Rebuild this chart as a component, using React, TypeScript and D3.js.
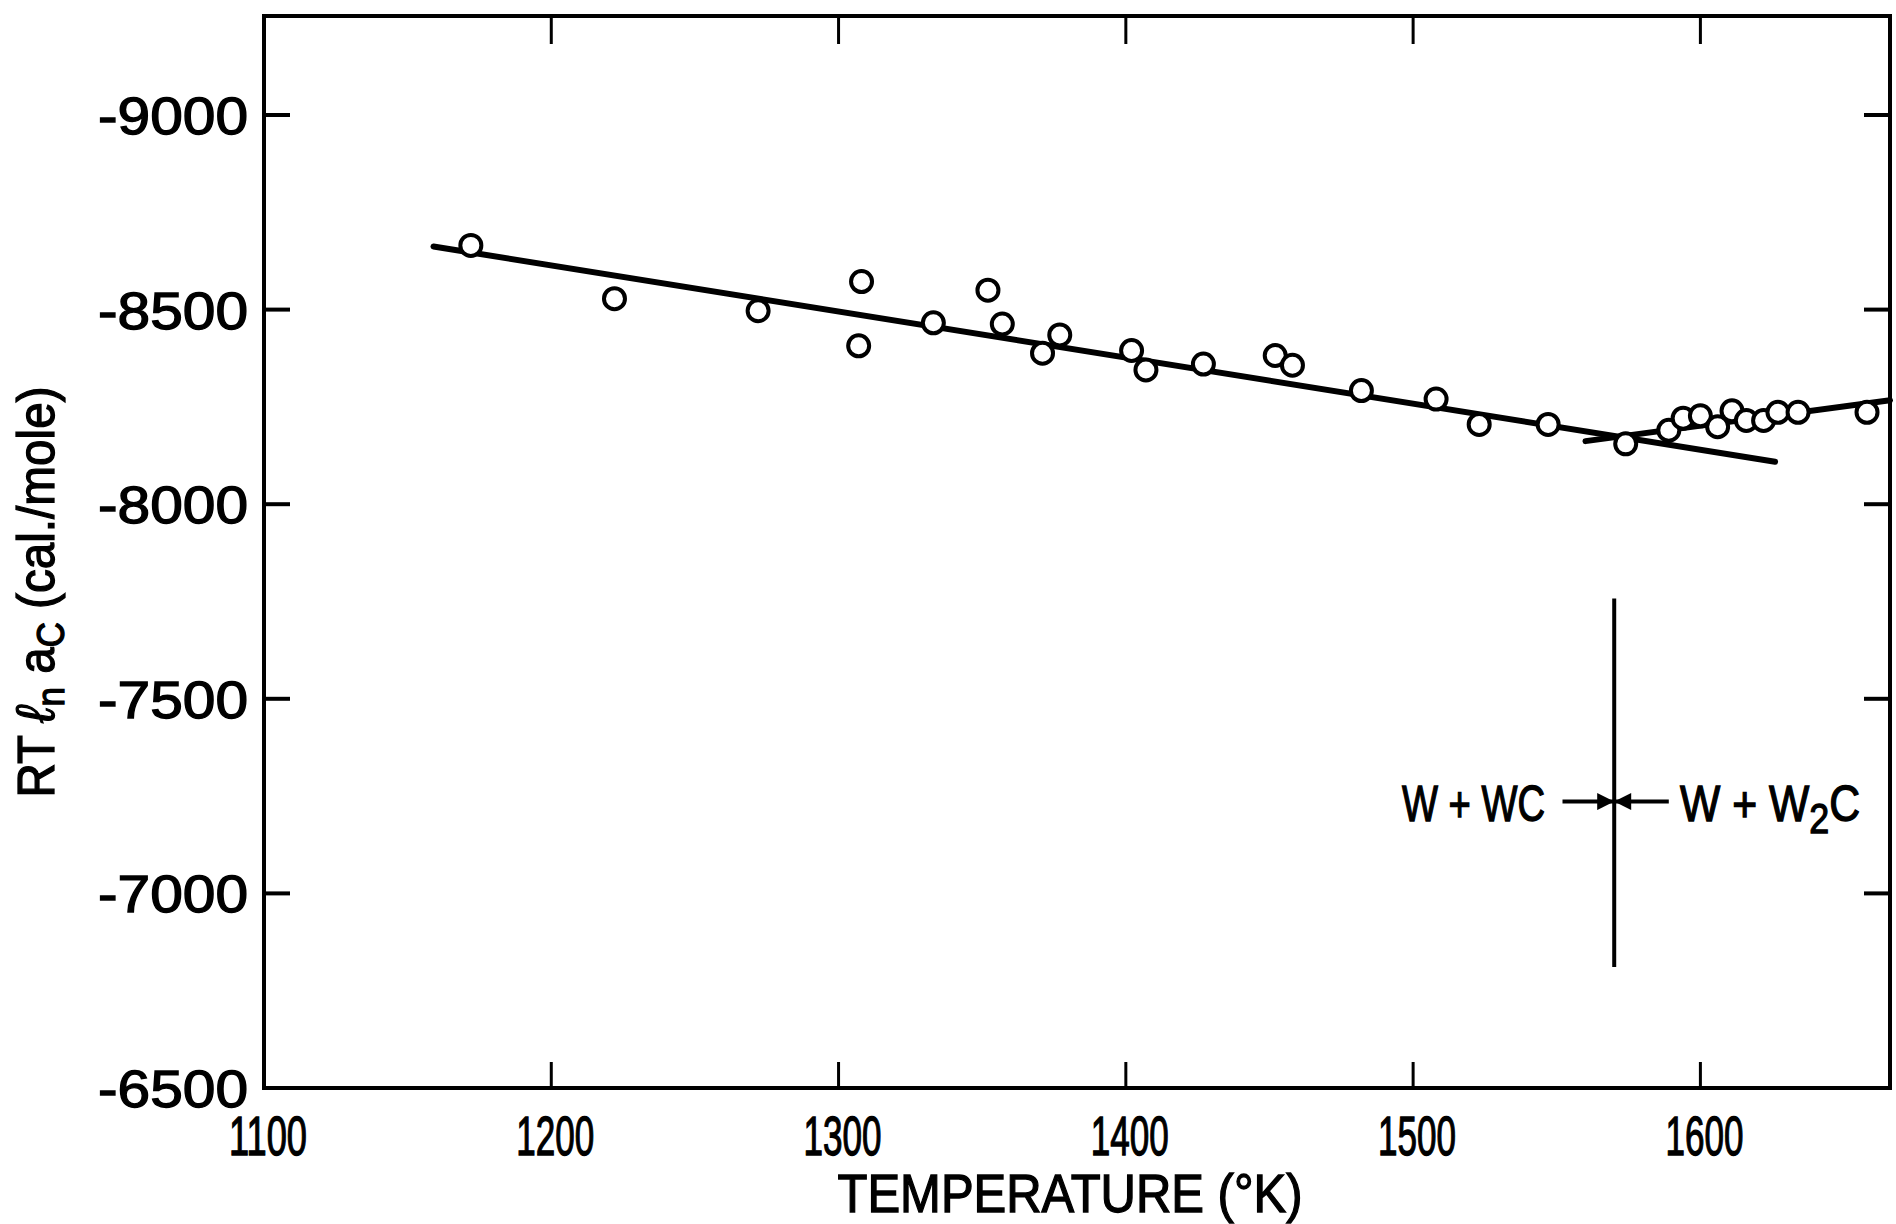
import React, { useRef, useEffect } from "react";
import * as d3 from "d3";

// axis ticks
const tempTicks = [1100, 1200, 1300, 1400, 1500, 1600];
const energyTicks = [-9000, -8500, -8000, -7500, -7000, -6500];

// measured points, RT ln aC (cal./mole) vs temperature (K)
const measuredTemp = [
  1172, 1222, 1272, 1308, 1307, 1333, 1352, 1357, 1371, 1377, 1402, 1407,
  1427, 1452, 1458, 1482, 1508, 1523, 1547, 1574, 1589, 1594, 1600, 1606,
  1611, 1616, 1622, 1627, 1634, 1658,
];
const measuredEnergy = [
  -8665, -8528, -8497, -8572, -8407, -8466, -8550, -8463, -8388, -8435, -8395,
  -8345, -8360, -8382, -8357, -8292, -8270, -8205, -8205, -8155, -8190, -8221,
  -8227, -8199, -8240, -8215, -8215, -8236, -8236, -8236,
];

// fitted lines (W + WC and W + W2C)
const wcFitTemp = [1159, 1626];
const wcFitEnergy = [-8662, -8109];
const w2cFitTemp = [1560, 1666];
const w2cFitEnergy = [-8162, -8267];

// phase boundary marker
const boundaryTemp = 1570;
const boundaryEnergy = [-7758, -6811];
const arrowEnergy = -7236;
const arrowTailTemp = [1552, 1589];

const width = 1896;
const height = 1224;
const left = 264;
const right = 1890;
const top = 16;
const bottom = 1088;
const tickLen = 26;
const font = "'Liberation Sans', Arial, sans-serif";

const App = () => {
  const svgRef = useRef(null);

  useEffect(() => {
    const svg = d3.select(svgRef.current);
    svg.selectAll("*").remove(); //clear

    const x = d3.scaleLinear().domain([1100, 1666]).range([left, right]);
    const y = d3.scaleLinear().domain([-6500, -9000]).range([bottom, 115]);

    const defs = svg.append("defs");
    defs
      .append("marker")
      .attr("id", "head")
      .attr("viewBox", "0 0 10 10")
      .attr("refX", 10)
      .attr("refY", 5)
      .attr("markerUnits", "userSpaceOnUse")
      .attr("markerWidth", 18)
      .attr("markerHeight", 17)
      .attr("orient", "auto")
      .append("path")
      .attr("d", "M0,0 L10,5 L0,10 Z")
      .attr("fill", "#000");

    // heavier text, like the printed original
    const ink = (sel) =>
      sel
        .attr("font-family", font)
        .attr("fill", "#000")
        .attr("stroke", "#000")
        .attr("stroke-width", 1.3);

    // frame
    svg
      .append("rect")
      .attr("x", left)
      .attr("y", top)
      .attr("width", right - left)
      .attr("height", bottom - top)
      .attr("fill", "none")
      .attr("stroke", "#000")
      .attr("stroke-width", 4);

    // ticks, all pointing inward
    const inner = tempTicks.slice(1);
    svg
      .append("g")
      .selectAll("line")
      .data(inner)
      .enter()
      .append("line")
      .attr("x1", (d) => x(d))
      .attr("x2", (d) => x(d))
      .attr("y1", bottom)
      .attr("y2", bottom - tickLen)
      .attr("stroke", "#000")
      .attr("stroke-width", 3);
    svg
      .append("g")
      .selectAll("line")
      .data(inner)
      .enter()
      .append("line")
      .attr("x1", (d) => x(d))
      .attr("x2", (d) => x(d))
      .attr("y1", top)
      .attr("y2", top + tickLen + 2)
      .attr("stroke", "#000")
      .attr("stroke-width", 3);

    const yInner = energyTicks.slice(0, -1);
    svg
      .append("g")
      .selectAll("line")
      .data(yInner)
      .enter()
      .append("line")
      .attr("x1", left)
      .attr("x2", left + tickLen)
      .attr("y1", (d) => y(d))
      .attr("y2", (d) => y(d))
      .attr("stroke", "#000")
      .attr("stroke-width", 4);
    svg
      .append("g")
      .selectAll("line")
      .data(yInner)
      .enter()
      .append("line")
      .attr("x1", right)
      .attr("x2", right - tickLen)
      .attr("y1", (d) => y(d))
      .attr("y2", (d) => y(d))
      .attr("stroke", "#000")
      .attr("stroke-width", 4);

    // tick labels
    svg
      .append("g")
      .selectAll("text")
      .data(tempTicks)
      .enter()
      .append("text")
      .call(ink)
      .attr("x", (d) => x(d) + 4)
      .attr("y", 1155)
      .attr("text-anchor", "middle")
      .attr("font-size", 56)
      .attr("textLength", 78)
      .attr("lengthAdjust", "spacingAndGlyphs")
      .text((d) => d);

    svg
      .append("g")
      .selectAll("text")
      .data(energyTicks)
      .enter()
      .append("text")
      .call(ink)
      .attr("x", 248)
      .attr("y", (d) => y(d) + 19)
      .attr("text-anchor", "end")
      .attr("font-size", 52)
      .attr("textLength", 150)
      .attr("lengthAdjust", "spacingAndGlyphs")
      .text((d) => "-" + Math.abs(d));

    // axis titles
    svg
      .append("text")
      .call(ink)
      .attr("x", 1070)
      .attr("y", 1212)
      .attr("text-anchor", "middle")
      .attr("font-size", 54)
      .attr("textLength", 465)
      .attr("lengthAdjust", "spacingAndGlyphs")
      .text("TEMPERATURE (°K)");

    const yTitle = svg
      .append("text")
      .call(ink)
      .attr("transform", "translate(54, 592) rotate(-90)")
      .attr("text-anchor", "middle")
      .attr("font-size", 52)
      .attr("textLength", 411)
      .attr("lengthAdjust", "spacingAndGlyphs");
    yTitle.append("tspan").text("RT ");
    yTitle.append("tspan").attr("font-style", "italic").attr("font-size", 54).text("ℓ");
    yTitle.append("tspan").attr("font-size", 38).attr("dy", 10).text("n");
    yTitle.append("tspan").attr("dy", -10).text(" a");
    yTitle.append("tspan").attr("font-size", 38).attr("dy", 10).text("C");
    yTitle.append("tspan").attr("dy", -10).text(" (cal./mole)");

    // fitted lines
    const line = d3
      .line()
      .x((d) => x(d[0]))
      .y((d) => y(d[1]));

    [
      [wcFitTemp, wcFitEnergy],
      [w2cFitTemp, w2cFitEnergy],
    ].forEach(([ts, es]) => {
      svg
        .append("path")
        .datum(ts.map((t, i) => [t, es[i]]))
        .attr("d", line)
        .attr("fill", "none")
        .attr("stroke", "#000")
        .attr("stroke-width", 6)
        .attr("stroke-linecap", "round");
    });

    // data points
    svg
      .append("g")
      .selectAll("circle")
      .data(measuredTemp.map((t, i) => [t, measuredEnergy[i]]))
      .enter()
      .append("circle")
      .attr("cx", (d) => x(d[0]))
      .attr("cy", (d) => y(d[1]))
      .attr("r", 10.5)
      .attr("fill", "#fff")
      .attr("stroke", "#000")
      .attr("stroke-width", 4);

    // phase boundary
    svg
      .append("line")
      .attr("x1", x(boundaryTemp))
      .attr("x2", x(boundaryTemp))
      .attr("y1", y(boundaryEnergy[0]))
      .attr("y2", y(boundaryEnergy[1]))
      .attr("stroke", "#000")
      .attr("stroke-width", 4);

    arrowTailTemp.forEach((t) => {
      svg
        .append("line")
        .attr("x1", x(t))
        .attr("x2", x(boundaryTemp))
        .attr("y1", y(arrowEnergy))
        .attr("y2", y(arrowEnergy))
        .attr("stroke", "#000")
        .attr("stroke-width", 4)
        .attr("marker-end", "url(#head)");
    });

    svg
      .append("text")
      .call(ink)
      .attr("x", 1545)
      .attr("y", y(arrowEnergy) + 19)
      .attr("text-anchor", "end")
      .attr("font-size", 50)
      .attr("textLength", 143)
      .attr("lengthAdjust", "spacingAndGlyphs")
      .text("W + WC");

    const w2c = svg
      .append("text")
      .call(ink)
      .attr("x", 1680)
      .attr("y", y(arrowEnergy) + 19)
      .attr("font-size", 50)
      .attr("textLength", 180)
      .attr("lengthAdjust", "spacingAndGlyphs");
    w2c.append("tspan").text("W + W");
    w2c.append("tspan").attr("font-size", 42).attr("dy", 12).text("2");
    w2c.append("tspan").attr("dy", -12).text("C");
  }, []);

  return (
    <div style={{ position: "absolute", left: 0, top: 0 }}>
      <svg
        ref={svgRef}
        width={width}
        height={height}
        style={{ display: "block", background: "#fff" }}
      ></svg>
    </div>
  );
};

export default App;
